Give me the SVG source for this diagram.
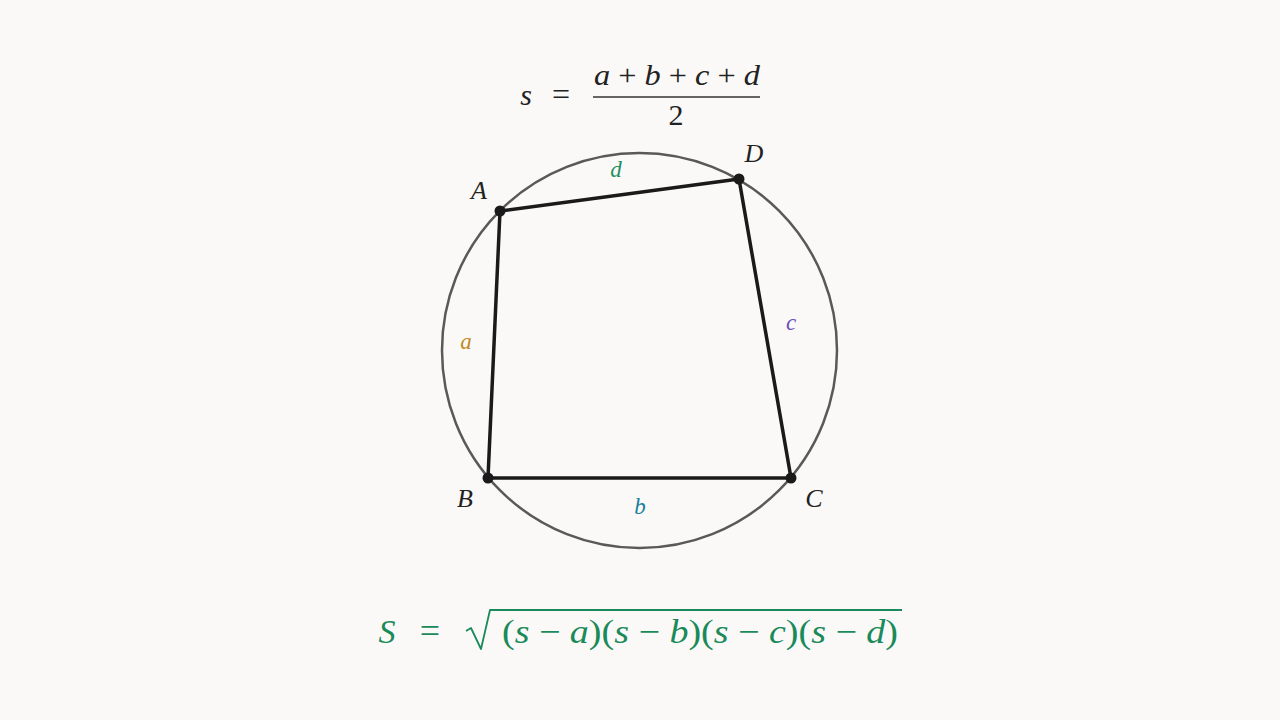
<svg xmlns="http://www.w3.org/2000/svg" width="1280" height="720" viewBox="0 0 1280 720">
<style>
.m{font-family:"Liberation Serif","DejaVu Serif",serif;font-style:italic;}
.r{font-family:"Liberation Serif","DejaVu Serif",serif;font-style:normal;}
.lbl{font-size:26px;fill:#222;text-anchor:middle;}
.side{font-size:23px;text-anchor:middle;}
.edge{stroke:#1a1a1a;stroke-width:3.5;fill:none;stroke-linecap:round;}
.pt{fill:#1a1a1a;}
</style>
<rect width="1280" height="720" fill="#faf9f7"/>
<g id="formula-s" fill="#222">
<text class="m" x="526" y="105" font-size="30" text-anchor="middle">s</text>
<text class="r" x="561" y="105" font-size="32" text-anchor="middle">=</text>
<text x="677" y="85" font-size="30" text-anchor="middle" textLength="166" lengthAdjust="spacingAndGlyphs"><tspan class="m">a</tspan><tspan class="r"> + </tspan><tspan class="m">b</tspan><tspan class="r"> + </tspan><tspan class="m">c</tspan><tspan class="r"> + </tspan><tspan class="m">d</tspan></text>
<line x1="593" y1="97" x2="760" y2="97" stroke="#333" stroke-width="1.3"/>
<text class="r" x="676" y="125" font-size="30" text-anchor="middle">2</text>
</g>
<g id="circle"><circle cx="639.5" cy="350.5" r="197.5" fill="none" stroke="#595959" stroke-width="2.5"/></g>
<g id="connectors">
<polygon class="edge" points="500,211 739,179 791,478 488,478"/>
</g>
<g id="point-A"><circle class="pt" cx="500" cy="211" r="5.5"/><text class="m lbl" x="479" y="199">A</text></g>
<g id="point-D"><circle class="pt" cx="739" cy="179" r="5.5"/><text class="m lbl" x="754" y="162">D</text></g>
<g id="point-B"><circle class="pt" cx="488" cy="478" r="5.5"/><text class="m lbl" x="465" y="507">B</text></g>
<g id="point-C"><circle class="pt" cx="791" cy="478" r="5.5"/><text class="m lbl" x="814" y="507">C</text></g>
<g id="side-labels">
<text class="m side" x="616" y="177" fill="#1e9060">d</text>
<text class="m side" x="466" y="349" fill="#c08a1e">a</text>
<text class="m side" x="791" y="330" fill="#6a4fc0">c</text>
<text class="m side" x="640" y="514" fill="#1a80a0">b</text>
</g>
<g id="formula-S" fill="#1a8a5a">
<text class="m" x="387" y="643" font-size="34" text-anchor="middle">S</text>
<text class="r" x="430" y="643" font-size="36" text-anchor="middle">=</text>
<path d="M466,631 L471,628 L481,649 L490,610 L902,610" fill="none" stroke="#1a8a5a" stroke-width="1.8" stroke-linejoin="round"/>
<text x="700" y="643" font-size="34" text-anchor="middle" textLength="396" lengthAdjust="spacingAndGlyphs"><tspan class="r">(</tspan><tspan class="m">s</tspan><tspan class="r"> − </tspan><tspan class="m">a</tspan><tspan class="r">)(</tspan><tspan class="m">s</tspan><tspan class="r"> − </tspan><tspan class="m">b</tspan><tspan class="r">)(</tspan><tspan class="m">s</tspan><tspan class="r"> − </tspan><tspan class="m">c</tspan><tspan class="r">)(</tspan><tspan class="m">s</tspan><tspan class="r"> − </tspan><tspan class="m">d</tspan><tspan class="r">)</tspan></text>
</g>
</svg>
